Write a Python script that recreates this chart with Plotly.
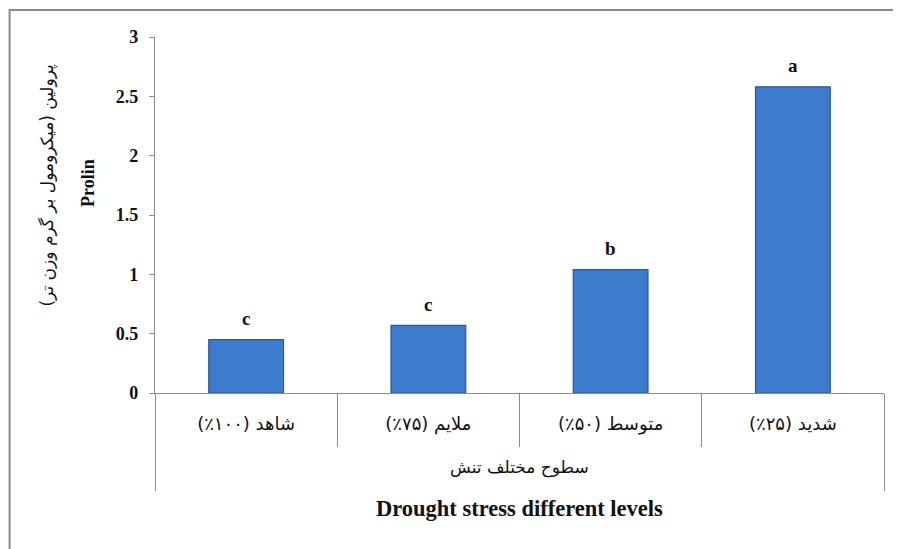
import plotly.graph_objects as go

categories = ["شاهد (۱۰۰٪)", "ملایم (۷۵٪)", "متوسط (۵۰٪)", "شدید (۲۵٪)"]
prolin = [0.45, 0.57, 1.04, 2.58]
letters = ["c", "c", "b", "a"]
y_ticks = [0, 0.5, 1, 1.5, 2, 2.5, 3]
y_tick_text = ["0", "0.5", "1", "1.5", "2", "2.5", "3"]
y_title_fa = "پرولین (میکرومول بر گرم وزن تر)"
y_title_en = "Prolin"
x_title_fa = "سطوح مختلف تنش"
x_title_en = "Drought stress different levels"

serif = "Liberation Serif, DejaVu Serif, serif"
persian = "DejaVu Sans, Liberation Serif, serif"
grey = "#8c8c8c"

fig = go.Figure()
fig.add_trace(go.Bar(
    x=categories,
    y=prolin,
    width=0.41,
    marker=dict(color="#3d7bcc", line=dict(color="#2a5a98", width=1.2)),
    showlegend=False,
    hoverinfo="skip",
))
# empty trace that carries the outer (group) axis
fig.add_trace(go.Scatter(x=[], y=[], xaxis="x2", showlegend=False, hoverinfo="skip"))

for c, v, t in zip(categories, prolin, letters):
    fig.add_annotation(
        x=c, y=v, text=f"<b>{t}</b>", showarrow=False,
        yshift=21, font=dict(family=serif, size=19, color="#111"),
        xref="x", yref="y",
    )

fig.add_annotation(
    xref="paper", yref="paper", x=-0.147, y=0.585, xanchor="center", yanchor="middle",
    text=y_title_fa, textangle=-90, showarrow=False,
    font=dict(family=persian, size=17, color="#111"),
)
fig.add_annotation(
    xref="paper", yref="paper", x=-0.092, y=0.59, xanchor="center", yanchor="middle",
    text=f"<b>{y_title_en}</b>", textangle=-90, showarrow=False,
    font=dict(family=serif, size=18, color="#111"),
)
fig.add_annotation(
    xref="paper", yref="paper", x=0.5, y=-0.21, xanchor="center", yanchor="middle",
    text=x_title_fa, showarrow=False,
    font=dict(family=persian, size=17, color="#111"),
)
fig.add_annotation(
    xref="paper", yref="paper", x=0.5, y=-0.325, xanchor="center", yanchor="middle",
    text=f"<b>{x_title_en}</b>", showarrow=False,
    font=dict(family=serif, size=22.5, color="#111"),
)

# outer frame
fig.add_shape(type="rect", xref="paper", yref="paper",
              x0=-0.1995, x1=1.2, y0=-0.6, y1=1.0758,
              line=dict(color=grey, width=2), layer="below")

fig.update_layout(
    width=901, height=549,
    margin=dict(l=147, r=25, t=29, b=164),
    paper_bgcolor="white", plot_bgcolor="white",
    xaxis=dict(
        type="category",
        showline=True, linecolor=grey, linewidth=1.3,
        ticks="outside", tickson="boundaries", ticklen=53, tickcolor=grey, tickwidth=1.3,
        ticklabelstandoff=14,
        tickfont=dict(family=persian, size=18, color="#111"),
        showgrid=False,
    ),
    xaxis2=dict(
        overlaying="x", side="bottom", anchor="y",
        range=[-0.5, len(categories) - 0.5],
        tickvals=[-0.5, len(categories) - 0.5],
        ticks="outside", ticklen=97, tickcolor=grey, tickwidth=1.3,
        showticklabels=False, showline=False, showgrid=False, zeroline=False,
    ),
    yaxis=dict(
        range=[0, 3], tickvals=y_ticks, ticktext=y_tick_text,
        showline=True, linecolor=grey, linewidth=1.3,
        ticks="outside", ticklen=5, tickcolor=grey, tickwidth=1.3,
        ticklabelstandoff=7,
        tickfont=dict(family=serif, size=18, color="#111", weight="bold"),
        showgrid=False, zeroline=False,
    ),
)

fig.write_html("out.html")
